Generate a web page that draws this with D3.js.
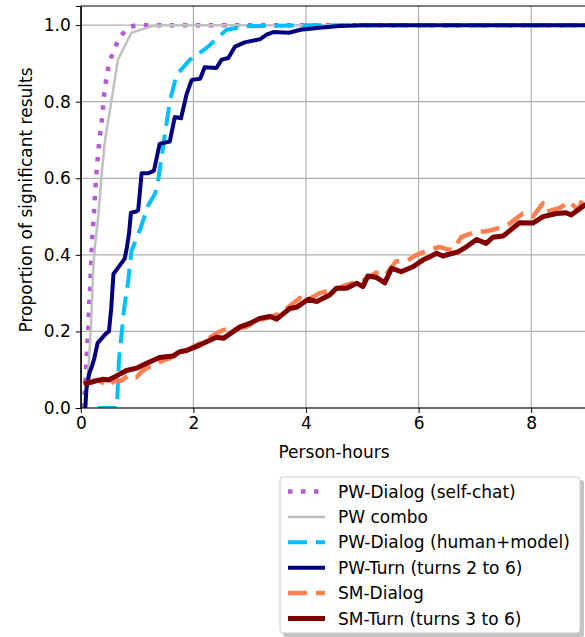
<!DOCTYPE html>
<html>
<head>
<meta charset="utf-8">
<script src="https://cdn.jsdelivr.net/npm/d3@7"></script>
<style>
  body { margin: 0; background: #fff; }
  text { font-family: "DejaVu Sans", sans-serif; fill: #000; }
</style>
</head>
<body>
<script>
// series: [person-hours, proportion]
const pwSelfChat = [[0.05,0.0],[0.08,0.06],[0.1,0.12],[0.13,0.2],[0.15,0.27],[0.18,0.36],[0.2,0.44],[0.23,0.5],[0.25,0.55],[0.28,0.62],[0.33,0.7],[0.38,0.76],[0.42,0.83],[0.5,0.9],[0.6,0.94],[0.7,0.97],[0.85,0.995],[1.0,1.0],[9.1,1.0]];
const pwCombo = [[0.06,0.0],[0.1,0.06],[0.14,0.11],[0.18,0.21],[0.22,0.36],[0.25,0.42],[0.31,0.5],[0.37,0.61],[0.43,0.7],[0.52,0.78],[0.66,0.91],[0.9,0.98],[1.28,0.998],[1.5,1.0],[9.1,1.0]];
const pwHumanModel = [[0.3,0],[0.64,0],[0.68,0.13],[0.77,0.26],[0.84,0.33],[0.9,0.41],[1.05,0.465],[1.2,0.53],[1.32,0.56],[1.38,0.6],[1.45,0.67],[1.58,0.8],[1.7,0.87],[1.94,0.91],[2.23,0.94],[2.59,0.988],[2.94,0.997],[4.0,1.0],[9.1,1.0]];
const pwTurn = [[0.08,0],[0.1,0.05],[0.15,0.09],[0.2,0.11],[0.24,0.13],[0.3,0.17],[0.36,0.18],[0.45,0.195],[0.5,0.2],[0.54,0.26],[0.58,0.35],[0.68,0.37],[0.78,0.39],[0.82,0.42],[0.86,0.46],[0.89,0.51],[0.98,0.513],[1.02,0.517],[1.08,0.613],[1.2,0.613],[1.3,0.62],[1.4,0.69],[1.58,0.696],[1.67,0.76],[1.78,0.757],[1.88,0.82],[1.97,0.857],[2.12,0.86],[2.2,0.89],[2.41,0.888],[2.5,0.91],[2.62,0.914],[2.74,0.944],[2.91,0.955],[3.18,0.963],[3.3,0.975],[3.42,0.982],[3.7,0.98],[3.9,0.988],[4.24,0.993],[4.6,0.998],[5.0,1.0],[9.1,1.0]];
const smDialog = [[0.1,0.065],[0.2,0.07],[0.31,0.073],[0.4,0.065],[0.49,0.057],[0.61,0.073],[0.7,0.07],[0.78,0.078],[0.87,0.086],[0.99,0.08],[1.08,0.095],[1.17,0.104],[1.35,0.117],[1.58,0.13],[1.8,0.145],[2.0,0.16],[2.2,0.175],[2.41,0.195],[2.53,0.204],[2.7,0.205],[2.94,0.212],[3.1,0.225],[3.3,0.235],[3.5,0.245],[3.7,0.265],[3.89,0.287],[4.0,0.28],[4.24,0.3],[4.5,0.31],[4.7,0.32],[4.9,0.33],[5.05,0.335],[5.25,0.354],[5.4,0.345],[5.6,0.383],[5.8,0.385],[5.96,0.4],[6.2,0.413],[6.37,0.421],[6.5,0.415],[6.61,0.413],[6.76,0.447],[7.03,0.461],[7.17,0.461],[7.3,0.465],[7.47,0.472],[7.61,0.481],[7.85,0.508],[8.03,0.5],[8.21,0.535],[8.27,0.513],[8.5,0.522],[8.68,0.539],[8.83,0.517],[8.92,0.548],[9.1,0.55]];
const smTurn = [[0.05,0.063],[0.2,0.068],[0.3,0.072],[0.4,0.075],[0.49,0.073],[0.61,0.082],[0.81,0.098],[0.99,0.104],[1.17,0.117],[1.4,0.132],[1.64,0.136],[1.76,0.147],[1.88,0.15],[2.12,0.165],[2.41,0.185],[2.53,0.182],[2.83,0.212],[3.0,0.221],[3.18,0.234],[3.36,0.239],[3.48,0.232],[3.71,0.26],[3.83,0.263],[4.04,0.284],[4.19,0.278],[4.42,0.295],[4.54,0.313],[4.72,0.313],[4.9,0.326],[5.01,0.317],[5.1,0.345],[5.25,0.341],[5.4,0.327],[5.52,0.365],[5.69,0.356],[5.9,0.369],[6.08,0.387],[6.2,0.395],[6.32,0.404],[6.43,0.397],[6.7,0.408],[6.85,0.421],[7.03,0.44],[7.2,0.43],[7.32,0.446],[7.5,0.449],[7.79,0.484],[8.03,0.483],[8.21,0.5],[8.45,0.508],[8.62,0.51],[8.71,0.504],[8.83,0.517],[8.95,0.53],[9.1,0.53]];

const seriesNames = ["PW-Dialog (self-chat)", "PW combo", "PW-Dialog (human+model)", "PW-Turn (turns 2 to 6)", "SM-Dialog", "SM-Turn (turns 3 to 6)"];
const seriesData = [pwSelfChat, pwCombo, pwHumanModel, pwTurn, smDialog, smTurn];
const xTicks = [0, 2, 4, 6, 8];
const yTicks = [0.0, 0.2, 0.4, 0.6, 0.8, 1.0];

const styles = [
  { color: "#b65bd6", width: 4.5, dash: "4.5,8.5" },
  { color: "#c0c0c0", width: 2.5, dash: null },
  { color: "#00bfff", width: 4, dash: "19,9" },
  { color: "#000080", width: 4, dash: null },
  { color: "#ff7f50", width: 4.5, dash: "19,9" },
  { color: "#800000", width: 5, dash: null }
];

const W = 585, H = 637;
const plotLeft = 80.8, plotTop = 6, plotBottom = 408;
const fs = "17px";

const svg = d3.select("body").append("svg")
  .attr("width", W)
  .attr("height", H);

const x = d3.scaleLinear().domain([0, 9]).range([plotLeft, plotLeft + 9 * 56.3]);
const y = d3.scaleLinear().domain([0, 1.05]).range([plotBottom, plotTop]);

svg.append("defs").append("clipPath").attr("id", "plotclip")
  .append("rect")
  .attr("x", plotLeft).attr("y", plotTop)
  .attr("width", W - plotLeft).attr("height", plotBottom - plotTop);

// grid
const grid = svg.append("g");
grid.selectAll(".vg").data(xTicks).enter().append("line")
  .attr("x1", d => x(d)).attr("x2", d => x(d))
  .attr("y1", plotTop).attr("y2", plotBottom)
  .attr("stroke", "#b0b0b0").attr("stroke-width", 1.2);
grid.selectAll(".hg").data(yTicks).enter().append("line")
  .attr("x1", plotLeft).attr("x2", W)
  .attr("y1", d => y(d)).attr("y2", d => y(d))
  .attr("stroke", "#b0b0b0").attr("stroke-width", 1.2);

// lines
const line = d3.line().x(d => x(d[0])).y(d => y(d[1]));
const lines = svg.append("g").attr("clip-path", "url(#plotclip)");
seriesData.forEach((s, i) => {
  lines.append("path")
    .datum(s)
    .attr("d", line)
    .attr("fill", "none")
    .attr("stroke", styles[i].color)
    .attr("stroke-width", styles[i].width)
    .attr("stroke-dasharray", styles[i].dash)
    .attr("stroke-linejoin", "round");
});

// spines
svg.append("line").attr("x1", plotLeft).attr("x2", W).attr("y1", plotTop).attr("y2", plotTop)
  .attr("stroke", "#000").attr("stroke-width", 1);
svg.append("line").attr("x1", plotLeft).attr("x2", plotLeft).attr("y1", plotTop).attr("y2", plotBottom)
  .attr("stroke", "#000").attr("stroke-width", 1);

// axes
const xAxis = svg.append("g")
  .attr("transform", "translate(0," + plotBottom + ")")
  .call(d3.axisBottom(x).tickValues(xTicks).tickFormat(d3.format("d")).tickSize(5).tickPadding(4));
const yAxis = svg.append("g")
  .attr("transform", "translate(" + plotLeft + ",0)")
  .call(d3.axisLeft(y).tickValues(yTicks).tickFormat(d3.format(".1f")).tickSize(5).tickPadding(5));
[xAxis, yAxis].forEach(a => {
  a.select(".domain").attr("stroke", "#000").attr("stroke-width", 1);
  a.selectAll("text").style("font-size", fs).style("font-family", "DejaVu Sans");
  a.selectAll(".tick line").attr("stroke", "#000");
});
xAxis.select(".domain").attr("d", "M" + plotLeft + ",0H" + W);

svg.append("text")
  .attr("x", 334).attr("y", 458)
  .attr("text-anchor", "middle")
  .style("font-size", fs)
  .text("Person-hours");

svg.append("text")
  .attr("transform", "translate(32," + 200 + ") rotate(-90)")
  .attr("text-anchor", "middle")
  .style("font-size", fs)
  .text("Proportion of significant results");

// legend
const lg = svg.append("g");
lg.append("rect")
  .attr("x", 283).attr("y", 480).attr("width", 301).attr("height", 157)
  .attr("rx", 3).attr("fill", "#888").attr("opacity", 0.5);
lg.append("rect")
  .attr("x", 280).attr("y", 477).attr("width", 300).attr("height", 156)
  .attr("rx", 3).attr("fill", "#fff").attr("stroke", "#cccccc").attr("stroke-width", 1);

seriesNames.forEach((name, i) => {
  const cy = 491.5 + i * 25.4;
  lg.append("line")
    .attr("x1", 288).attr("x2", 325)
    .attr("y1", cy).attr("y2", cy)
    .attr("stroke", styles[i].color)
    .attr("stroke-width", styles[i].width)
    .attr("stroke-dasharray", styles[i].dash);
  lg.append("text")
    .attr("x", 338).attr("y", cy)
    .attr("dy", "0.36em")
    .style("font-size", fs)
    .text(name);
});
</script>
</body>
</html>
